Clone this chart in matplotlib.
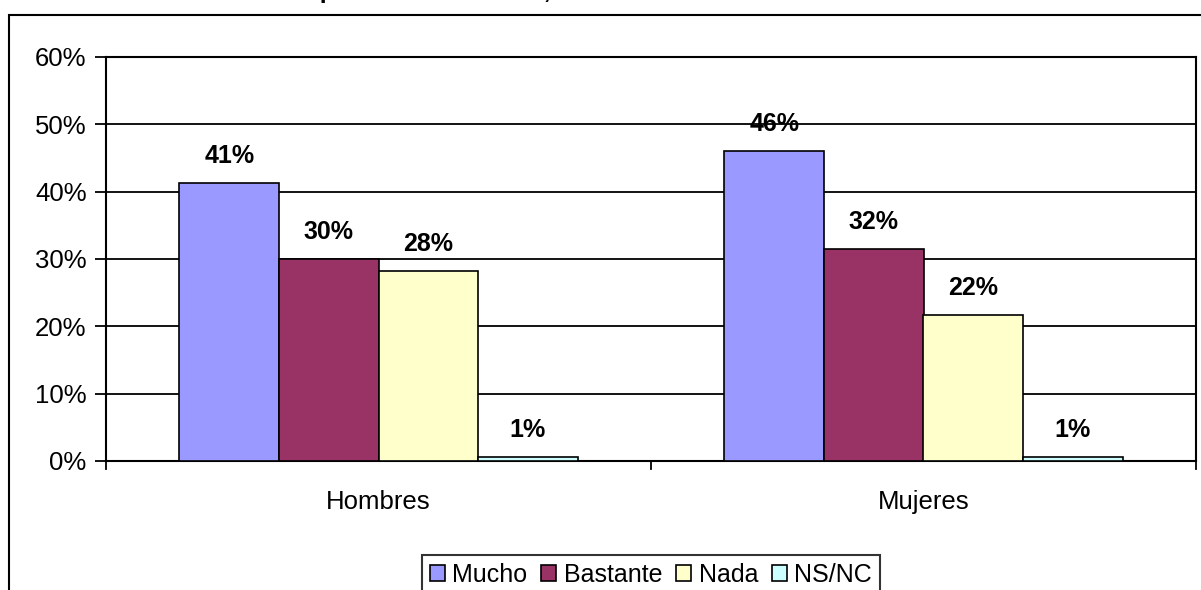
import matplotlib
matplotlib.use("Agg")
import matplotlib.pyplot as plt
from matplotlib.patches import Rectangle
import numpy as np

plt.rcParams['font.family'] = ['Liberation Sans', 'DejaVu Sans']

categories = ["Hombres", "Mujeres"]
series = ["Mucho", "Bastante", "Nada", "NS/NC"]
values = {
    "Mucho":    [41.3, 46.0],
    "Bastante": [30.0, 31.5],
    "Nada":     [28.2, 21.7],
    "NS/NC":    [0.6, 0.6],
}
labels = {
    "Mucho":    ["41%", "46%"],
    "Bastante": ["30%", "32%"],
    "Nada":     ["28%", "22%"],
    "NS/NC":    ["1%", "1%"],
}
colors = ["#9999FF", "#993366", "#FFFFCC", "#CCFFFF"]
yticks = [0, 10, 20, 30, 40, 50, 60]
ytick_labels = ["0%", "10%", "20%", "30%", "40%", "50%", "60%"]
title = "Gráfico 36. Interés en la España de hace años, en función del sexo"

W, H = 1201, 590
fig = plt.figure(figsize=(W / 100, H / 100), dpi=100)

# outer chart frame
fig.patches.append(Rectangle((9 / W, -0.1), 1.2, (H - 15) / H + 0.1,
                             transform=fig.transFigure, fill=False,
                             edgecolor='black', linewidth=1.5, zorder=0))
fig.text(0 / W, 1 + 2 / H, title, fontsize=18, fontweight='bold',
         ha='left', va='baseline')

ax = fig.add_axes([106 / W, 1 - 461 / H, (1196 - 106) / W, (461 - 57) / H])

bw = 0.1826
x = np.arange(len(categories))
for i, s in enumerate(series):
    pos = x + (i - 1.5) * bw
    ax.bar(pos, values[s], width=bw, color=colors[i], edgecolor='black',
           linewidth=1.2, label=s, zorder=3)
    for p, v, lab in zip(pos, values[s], labels[s]):
        ax.text(p, v + 2.2, lab, ha='center', va='bottom', fontsize=18,
                fontweight='bold', zorder=4)

ax.set_xlim(-0.5, 1.5)
ax.set_ylim(0, 60)
ax.set_yticks(yticks)
ax.set_yticklabels(ytick_labels, fontsize=18.5)
ax.yaxis.grid(True, color='black', linewidth=1.3, zorder=1)
ax.set_axisbelow(True)

ax.set_xticks(x)
ax.set_xticklabels(categories, fontsize=18.5)
ax.tick_params(axis='x', length=0, pad=21)
for xb in [-0.5, 0.5, 1.5]:
    ax.plot([xb, xb], [0, -1.2], color='black', linewidth=1.3, clip_on=False)
ax.tick_params(axis='y', length=8, width=1.3, direction='out', pad=6)

for sp in ax.spines.values():
    sp.set_color('black')
    sp.set_linewidth(1.5)

leg = fig.legend(loc='upper center', bbox_to_anchor=(651 / W, 1 - 555 / H),
                 ncol=4, fontsize=18, frameon=True, fancybox=False,
                 handlelength=0.6, handleheight=0.6, handletextpad=0.3,
                 columnspacing=0.55, borderpad=0.3, borderaxespad=0)
leg.get_frame().set_edgecolor('black')
leg.get_frame().set_linewidth(1.5)

fig.savefig("out.png", dpi=100)
